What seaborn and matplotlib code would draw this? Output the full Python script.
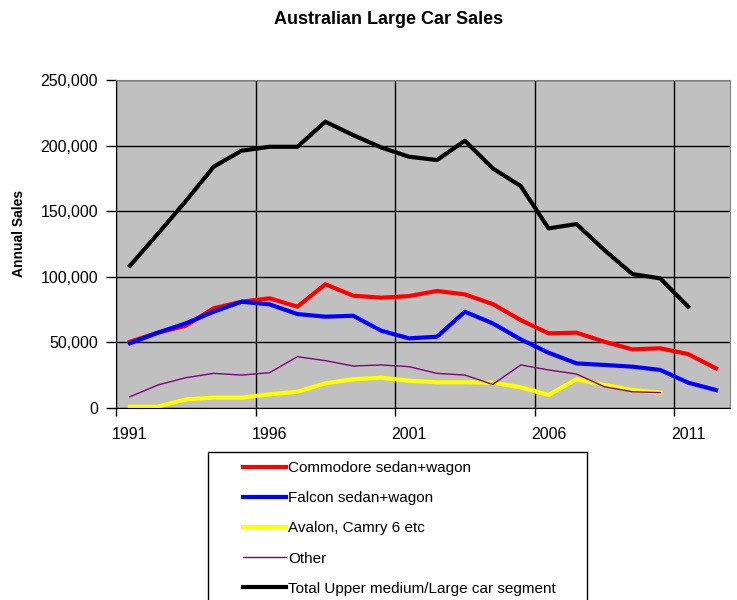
import matplotlib
matplotlib.use("Agg")
import matplotlib.pyplot as plt
import matplotlib.ticker as mticker
from matplotlib.patches import Rectangle
import seaborn as sns
import pandas as pd
import numpy as np

# data
years = list(range(1991, 2013))
commodore = [50500, 57400, 62700, 76000, 81000, 83600, 77200, 94300, 85600, 84100, 85300,
             89200, 86600, 79200, 67000, 56900, 57400, 50500, 44700, 45500, 41100, 30200]
falcon = [49300, 57400, 64500, 73400, 81000, 79000, 71600, 69600, 70300, 58900, 53100,
          54300, 73400, 64500, 52300, 42100, 34000, 32800, 31500, 29000, 19300, 13700]
avalon = [1000, 1000, 6600, 7900, 7900, 10400, 12400, 18800, 21900, 23100, 20800,
          19600, 19600, 19300, 15800, 9900, 21900, 17500, 13700, 11700, None, None]
other = [8600, 17500, 23100, 26400, 25100, 26900, 39100, 36100, 32000, 32800, 31500,
         26400, 25100, 18000, 32800, 29000, 25900, 16200, 12400, 11700, None, None]
total = [108400, 132800, 157700, 183900, 196100, 199100, 199100, 218200, 208000, 198600, 191500,
         189000, 203700, 182600, 169200, 136900, 140200, 120400, 102100, 98800, 77200, None]

series_names = ["Commodore sedan+wagon", "Falcon sedan+wagon", "Avalon, Camry 6 etc",
                "Other", "Total Upper medium/Large car segment"]
series_values = [commodore, falcon, avalon, other, total]
colors = ["#FF0000", "#0000FF", "#FFFF00", "#800080", "#000000"]
widths = [3, 3, 3, 1, 3]

plt.rcParams['font.family'] = ['Liberation Sans', 'DejaVu Sans']

fig = plt.figure(figsize=(7.37, 6), dpi=100)
ax = fig.add_axes([116 / 737, 1 - 408 / 600, 614 / 737, 328 / 600])
ax.set_facecolor("#C0C0C0")

for name, vals, col, lw in zip(series_names, series_values, colors, widths):
    df = pd.DataFrame({"Year": years, "Sales": vals}).dropna()
    sns.lineplot(data=df, x="Year", y="Sales", color=col, linewidth=lw, ax=ax, label=name)
ax.get_legend().remove()
handles = ax.get_lines()[:len(series_names)]

ax.set_xlim(1990.5, 2012.5)
ax.set_ylim(0, 250000)

# labels sit at category centres, ticks and grid at the boundaries
ax.set_xticks([1991, 1996, 2001, 2006, 2011])
ax.set_xticks([1990.5, 1995.5, 2000.5, 2005.5, 2010.5], minor=True)
ax.tick_params(axis='x', which='major', length=0, pad=14, labelsize=11.5)
ax.tick_params(axis='x', which='minor', length=6, width=1, direction='out', color='black')
ax.grid(axis='x', which='minor', color='black', linewidth=1)
ax.set_yticks(np.arange(0, 250001, 50000))
ax.yaxis.set_major_formatter(mticker.FuncFormatter(lambda v, p: f"{int(v):,}"))
ax.tick_params(axis='y', length=7, width=1, direction='out', color='black', labelsize=11.5, pad=6)
ax.grid(axis='y', which='major', color='black', linewidth=1)
ax.set_axisbelow(True)

ax.set_xlabel("")
ax.set_ylabel("")
for side in ["top", "right"]:
    ax.spines[side].set_color("#808080")
for side in ["left", "bottom"]:
    ax.spines[side].set_color("black")

fig.text(389 / 737, 1 - 20 / 600, "Australian Large Car Sales", ha='center', va='center',
         fontsize=13, fontweight='bold')
fig.text(19 / 737, 1 - 233 / 600, "Annual Sales", ha='center', va='center',
         rotation=90, fontsize=10, fontweight='bold')

# legend box, cut off by the bottom edge as in the original
box = Rectangle((208 / 737, -0.05), 379 / 737, 0.05 + 1 - 452 / 600, transform=fig.transFigure,
                facecolor='white', edgecolor='black', linewidth=1)
fig.add_artist(box)
fig.legend(handles, series_names, loc='upper left', bbox_to_anchor=(243 / 737, 1 - 461 / 600),
           frameon=False, fontsize=11, handlelength=2.8, handletextpad=0.15,
           labelspacing=1.06, borderpad=0, borderaxespad=0)

fig.savefig("out.png", dpi=100)
